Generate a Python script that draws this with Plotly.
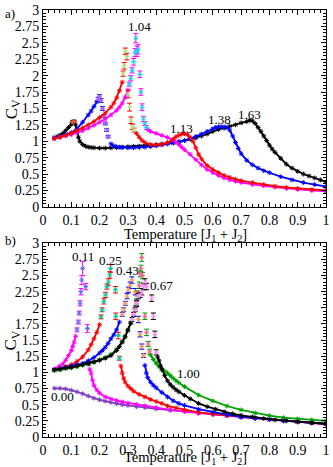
import plotly.graph_objects as go

# ---- panel a) ----
a_black_t = [0.04, 0.05, 0.06, 0.07, 0.08, 0.09, 0.10, 0.105, 0.11, 0.115, 0.12, 0.125, 0.13,
             0.14, 0.15, 0.16, 0.17, 0.18,
             0.20, 0.22, 0.24, 0.26, 0.28, 0.30, 0.32, 0.34, 0.36, 0.38, 0.40, 0.42, 0.44, 0.46,
             0.48, 0.50, 0.52, 0.54, 0.56, 0.58, 0.60, 0.62, 0.64, 0.66, 0.68, 0.70, 0.72,
             0.73, 0.74, 0.75, 0.76, 0.77, 0.78, 0.79, 0.80, 0.81, 0.82,
             0.84, 0.86, 0.88, 0.90, 0.92, 0.94, 0.96, 0.98, 1.00]
a_black_c = [1.05, 1.07, 1.09, 1.12, 1.16, 1.21, 1.26, 1.29, 1.30, 1.25, 1.15, 1.06, 1.00,
             0.95, 0.925, 0.91, 0.905, 0.90,
             0.895, 0.895, 0.90, 0.905, 0.91, 0.915, 0.92, 0.925, 0.93, 0.935, 0.945, 0.955, 0.965, 0.975,
             0.99, 1.01, 1.03, 1.05, 1.08, 1.11, 1.15, 1.18, 1.20, 1.23, 1.25, 1.28, 1.30,
             1.32, 1.31, 1.27, 1.21, 1.15, 1.08, 1.01, 0.94, 0.88, 0.83,
             0.74, 0.65, 0.59, 0.54, 0.50, 0.47, 0.44, 0.41, 0.38]
a_black_pt = [0.105, 0.11]
a_black_pc = [1.29, 1.30]
a_black_pe = [0.02, 0.02]

a_blue_t = [0.04, 0.06, 0.08, 0.10, 0.12, 0.14, 0.16, 0.17, 0.18, 0.19, None,
            0.24, 0.25, 0.26, 0.27, 0.28,
            0.30, 0.32, 0.34, 0.36, 0.38, 0.40, 0.42, 0.44, 0.46, 0.48, 0.50, 0.52, 0.54, 0.56, 0.58, 0.60,
            0.61, 0.62, 0.63, 0.64, 0.65, 0.66, 0.67, 0.68, 0.69, 0.70,
            0.72, 0.74, 0.76, 0.78, 0.80, 0.84, 0.88, 0.92, 0.96, 1.00]
a_blue_c = [1.05, 1.07, 1.10, 1.13, 1.19, 1.29, 1.40, 1.46, 1.53, 1.60, None,
            0.96, 0.93, 0.915, 0.91, 0.905,
            0.90, 0.90, 0.905, 0.91, 0.92, 0.93, 0.945, 0.96, 0.975, 0.99, 1.01, 1.04, 1.07, 1.11, 1.15, 1.19,
            1.21, 1.22, 1.22, 1.22, 1.21, 1.17, 1.08, 0.98, 0.89, 0.81,
            0.71, 0.64, 0.59, 0.55, 0.52, 0.46, 0.41, 0.37, 0.34, 0.31]
a_blue_pt = [0.195, 0.20, 0.205, 0.21, 0.215, 0.22, 0.225, 0.23]
a_blue_pc = [1.64, 1.68, 1.62, 1.50, 1.38, 1.27, 1.17, 1.07]
a_blue_pe = [0.03, 0.03, 0.03, 0.03, 0.02, 0.02, 0.02, 0.02]

a_red_t = [0.04, 0.06, 0.08, 0.10, 0.12, 0.14, 0.16, 0.18, 0.20, 0.22, 0.24, 0.25, 0.26, 0.27, 0.28, None,
           0.33, 0.34, 0.35, 0.36, 0.38, 0.40, 0.42, 0.44, 0.46, 0.47, 0.48, 0.49, 0.50, 0.51, 0.52, 0.53,
           0.54, 0.55, 0.56, 0.58, 0.60, 0.62, 0.64, 0.66, 0.68, 0.70, 0.74, 0.78, 0.82, 0.86, 0.90, 0.95, 1.00]
a_red_c = [1.04, 1.06, 1.09, 1.12, 1.16, 1.20, 1.25, 1.30, 1.36, 1.43, 1.52, 1.58, 1.66, 1.77, 1.90, None,
           1.12, 1.06, 1.01, 0.98, 0.95, 0.945, 0.955, 0.98, 1.03, 1.07, 1.09, 1.11, 1.115, 1.10, 1.06, 1.00,
           0.90, 0.80, 0.73, 0.63, 0.57, 0.52, 0.48, 0.45, 0.42, 0.40, 0.37, 0.34, 0.315, 0.295, 0.28, 0.26, 0.25]
a_red_pt = [0.283, 0.287, 0.291, 0.296, 0.301, 0.306, 0.311, 0.316, 0.322]
a_red_pc = [2.03, 2.15, 2.37, 2.29, 1.72, 1.52, 1.32, 1.22, 1.17]
a_red_pe = [0.04, 0.05, 0.05, 0.05, 0.06, 0.06, 0.05, 0.04, 0.03]

a_mag_t = [0.04, 0.06, 0.08, 0.10, 0.12, 0.14, 0.16, 0.18, 0.20, 0.22, 0.24, 0.26, 0.27, 0.28, 0.29, 0.30, None,
           0.37, 0.38, 0.40, 0.42, 0.44, 0.46, 0.47, 0.48, 0.49, 0.50, 0.52, 0.54, 0.56, 0.58, 0.60,
           0.62, 0.64, 0.66, 0.68, 0.70, 0.74, 0.78, 0.82, 0.86, 0.90, 0.95, 1.00]
a_mag_c = [1.04, 1.06, 1.08, 1.10, 1.13, 1.16, 1.20, 1.24, 1.29, 1.34, 1.40, 1.47, 1.52, 1.58, 1.67, 1.78, None,
           1.18, 1.15, 1.12, 1.09, 1.06, 1.02, 0.99, 0.95, 0.91, 0.87, 0.80, 0.72, 0.64, 0.57, 0.52,
           0.48, 0.44, 0.41, 0.39, 0.37, 0.34, 0.32, 0.30, 0.28, 0.265, 0.25, 0.235]
a_mag_pt = [0.305, 0.31, 0.315, 0.32, 0.325, 0.328, 0.332, 0.336, 0.342, 0.346, 0.35, 0.355, 0.36, 0.365]
a_mag_pc = [1.87, 1.96, 2.08, 2.21, 2.35, 2.57, 2.37, 2.40, 2.02, 1.75, 1.52, 1.34, 1.27, 1.21]
a_mag_pe = [0.03, 0.04, 0.04, 0.05, 0.06, 0.07, 0.08, 0.07, 0.05, 0.05, 0.05, 0.04, 0.03, 0.03]

a_labels = ["1.04", "1.13", "1.38", "1.63"]
a_label_t = [0.34, 0.49, 0.625, 0.728]
a_label_c = [2.75, 1.19, 1.33, 1.40]

# ---- panel b) ----
b_mag_t = [0.04, 0.05, 0.06, 0.07, 0.08, 0.09, 0.10, 0.105, 0.11, 0.115, None,
           0.165, 0.17, 0.175, 0.18, 0.19, 0.20, 0.22, 0.24, 0.26, 0.28, 0.30, 0.33, 0.36, 0.40, 0.45,
           0.50, 0.55, 0.60, 0.65, 0.70, 0.75, 0.80, 0.85, 0.90, 0.95, 1.00]
b_mag_c = [1.05, 1.07, 1.10, 1.13, 1.19, 1.26, 1.34, 1.40, 1.47, 1.56, None,
           1.05, 0.99, 0.88, 0.80, 0.73, 0.68, 0.62, 0.59, 0.565, 0.545, 0.525, 0.505, 0.485, 0.455, 0.42,
           0.395, 0.37, 0.35, 0.33, 0.31, 0.29, 0.275, 0.255, 0.24, 0.22, 0.20]
b_mag_pt = [0.12, 0.125, 0.128, 0.131, 0.134, 0.137, 0.14, 0.151, 0.157, 0.162]
b_mag_pc = [1.66, 1.78, 1.92, 2.07, 2.25, 2.43, 2.61, 2.33, 1.68, 1.14]
b_mag_pe = [0.03, 0.03, 0.03, 0.04, 0.05, 0.07, 0.11, 0.05, 0.06, 0.03]

b_red_t = [0.04, 0.06, 0.08, 0.10, 0.12, 0.14, 0.16, 0.17, 0.18, 0.19, 0.20, None,
           0.275, 0.28, 0.285, 0.29, 0.30, 0.31, 0.32, 0.34, 0.36, 0.38, 0.40, 0.42, 0.44, 0.47,
           0.50, 0.55, 0.60, 0.65, 0.70, 0.75, 0.80, 0.85, 0.90, 0.95, 1.00]
b_red_c = [1.04, 1.06, 1.09, 1.12, 1.17, 1.24, 1.35, 1.43, 1.52, 1.62, 1.74, None,
           1.10, 0.99, 0.91, 0.85, 0.79, 0.75, 0.71, 0.66, 0.62, 0.58, 0.55, 0.52, 0.48, 0.45,
           0.42, 0.38, 0.355, 0.335, 0.31, 0.29, 0.27, 0.25, 0.235, 0.22, 0.20]
b_red_pt = [0.205, 0.209, 0.215, 0.221, 0.226, 0.231, 0.236, 0.239, 0.256, 0.257, 0.266, 0.27]
b_red_pc = [1.86, 1.97, 2.10, 2.20, 2.33, 2.40, 2.51, 2.61, 2.28, 1.87, 1.57, 1.22]
b_red_pe = [0.03, 0.03, 0.04, 0.04, 0.04, 0.05, 0.05, 0.06, 0.05, 0.05, 0.05, 0.03]

b_blue_t = [0.04, 0.06, 0.08, 0.10, 0.12, 0.14, 0.16, 0.18, 0.20, 0.21, 0.22, 0.23, 0.24, 0.25, 0.26, 0.27, None,
            0.36, 0.365, 0.37, 0.38, 0.39, 0.40, 0.42, 0.44, 0.46, 0.48,
            0.50, 0.55, 0.60, 0.65, 0.70, 0.75, 0.80, 0.85, 0.90, 0.95, 1.00]
b_blue_c = [1.04, 1.06, 1.08, 1.10, 1.12, 1.14, 1.18, 1.23, 1.30, 1.34, 1.39, 1.45, 1.52, 1.58, 1.66, 1.78, None,
            1.11, 0.99, 0.92, 0.85, 0.80, 0.76, 0.69, 0.62, 0.56, 0.52,
            0.49, 0.43, 0.385, 0.345, 0.31, 0.29, 0.27, 0.25, 0.235, 0.22, 0.205]
b_blue_pt = [0.28, 0.285, 0.291, 0.297, 0.302, 0.308, 0.314, 0.326, 0.331, 0.337, 0.343, 0.349, 0.355]
b_blue_pc = [1.90, 1.97, 2.07, 2.18, 2.28, 2.35, 2.43, 2.25, 2.07, 1.82, 1.59, 1.40, 1.26]
b_blue_pe = [0.03, 0.03, 0.03, 0.04, 0.04, 0.05, 0.05, 0.05, 0.05, 0.05, 0.04, 0.04, 0.03]

b_black_t = [0.04, 0.06, 0.08, 0.10, 0.12, 0.14, 0.16, 0.18, 0.20, 0.22, 0.24, 0.26, 0.27, 0.28, 0.29, 0.30, 0.31, None,
             0.405, 0.41, 0.415, 0.42, 0.43, 0.44, 0.45, 0.46, 0.47, 0.48, 0.50, 0.52, 0.55, 0.58,
             0.61, 0.64, 0.67, 0.70, 0.74, 0.78, 0.82, 0.86, 0.90, 0.95, 1.00]
b_black_c = [1.04, 1.05, 1.07, 1.08, 1.10, 1.12, 1.14, 1.16, 1.19, 1.22, 1.26, 1.34, 1.40, 1.47, 1.55, 1.65, 1.76, None,
             1.24, 1.18, 1.10, 1.04, 0.95, 0.87, 0.81, 0.77, 0.73, 0.70, 0.645, 0.59, 0.52, 0.47,
             0.43, 0.39, 0.36, 0.335, 0.31, 0.285, 0.265, 0.25, 0.235, 0.22, 0.205]
b_black_pt = [0.314, 0.32, 0.326, 0.331, 0.337, 0.343, 0.349, 0.355, 0.36, 0.366, 0.384, 0.39, 0.395, 0.40]
b_black_pc = [1.82, 1.90, 1.97, 2.07, 2.18, 2.20, 2.25, 2.33, 2.40, 2.33, 2.15, 1.87, 1.59, 1.31]
b_black_pe = [0.03, 0.03, 0.03, 0.04, 0.04, 0.04, 0.05, 0.05, 0.05, 0.05, 0.05, 0.05, 0.05, 0.04]

b_green_t = [0.04, 0.06, 0.08, 0.10, 0.12, 0.14, 0.16, 0.18, 0.20, 0.22, 0.24, 0.26, 0.28, 0.29, 0.30, 0.31, None,
             0.38, 0.39, 0.40, 0.41, 0.42, 0.43, 0.44, 0.45, 0.46, 0.47, 0.48, 0.50,
             0.55, 0.60, 0.65, 0.70, 0.75, 0.80, 0.85, 0.90, 0.95, 1.00]
b_green_c = [1.03, 1.04, 1.06, 1.07, 1.09, 1.11, 1.13, 1.16, 1.19, 1.23, 1.28, 1.36, 1.48, 1.56, 1.66, 1.77, None,
             1.27, 1.20, 1.14, 1.09, 1.06, 1.02, 0.99, 0.95, 0.91, 0.87, 0.84, 0.78,
             0.65, 0.56, 0.48, 0.42, 0.37, 0.33, 0.30, 0.28, 0.265, 0.25]
b_green_pt = [0.32, 0.325, 0.33, 0.335, 0.34, 0.343, 0.346, 0.349, 0.352, 0.36, 0.366, 0.372, 0.377]
b_green_pc = [1.90, 2.00, 2.10, 2.22, 2.35, 2.53, 2.61, 2.78, 2.50, 1.87, 1.62, 1.44, 1.32]
b_green_pe = [0.03, 0.03, 0.04, 0.04, 0.05, 0.05, 0.05, 0.06, 0.05, 0.05, 0.05, 0.04, 0.04]

b_purple_t = [0.04, 0.06, 0.08, 0.10, 0.12, 0.14, 0.16, 0.18, 0.20, 0.22, 0.24, 0.26, 0.28, 0.30, 0.33, 0.36,
              0.40, 0.45, 0.50, 0.55, 0.60, 0.65, 0.70, 0.75, 0.80, 0.85, 0.90, 0.95, 1.00]
b_purple_c = [0.755, 0.755, 0.745, 0.725, 0.70, 0.67, 0.635, 0.60, 0.575, 0.555, 0.535, 0.515, 0.50, 0.49, 0.47, 0.455,
              0.435, 0.415, 0.395, 0.37, 0.35, 0.33, 0.31, 0.29, 0.275, 0.26, 0.24, 0.225, 0.21]

b_labels = ["0.11", "0.25", "0.43", "0.67", "1.00", "0.00"]
b_label_t = [0.14, 0.24, 0.30, 0.42, 0.515, 0.07]
b_label_c = [2.79, 2.74, 2.58, 2.35, 0.98, 0.62]

FONT = "Liberation Serif"
XTITLE = "Temperature [J<sub>1</sub> + J<sub>2</sub>]"

fig = go.Figure()


def add_curve(t, c, pt, pc, pe, color, xa, ya):
    assert len(t) == len(c) and len(pt) == len(pc) == len(pe)
    fig.add_trace(go.Scatter(
        x=t, y=c, xaxis=xa, yaxis=ya, mode="lines+markers",
        line=dict(color=color, width=1.8),
        marker=dict(symbol="asterisk-open", size=4, line=dict(color=color, width=1)),
        connectgaps=False, showlegend=False, hoverinfo="skip",
    ))
    if pt:
        fig.add_trace(go.Scatter(
            x=pt, y=pc, xaxis=xa, yaxis=ya, mode="markers",
            marker=dict(symbol="asterisk-open", size=4, line=dict(color=color, width=1)),
            error_y=dict(type="data", array=pe, color=color, thickness=1, width=2.5),
            showlegend=False, hoverinfo="skip",
        ))


add_curve(a_black_t, a_black_c, a_black_pt, a_black_pc, a_black_pe, "#000000", "x", "y")
add_curve(a_blue_t, a_blue_c, a_blue_pt, a_blue_pc, a_blue_pe, "#0000ff", "x", "y")
add_curve(a_mag_t, a_mag_c, a_mag_pt, a_mag_pc, a_mag_pe, "#ff00ff", "x", "y")
add_curve(a_red_t, a_red_c, a_red_pt, a_red_pc, a_red_pe, "#ff0000", "x", "y")

add_curve(b_purple_t, b_purple_c, [], [], [], "#7d3fbf", "x2", "y2")
add_curve(b_mag_t, b_mag_c, b_mag_pt, b_mag_pc, b_mag_pe, "#ff00ff", "x2", "y2")
add_curve(b_red_t, b_red_c, b_red_pt, b_red_pc, b_red_pe, "#ff0000", "x2", "y2")
add_curve(b_blue_t, b_blue_c, b_blue_pt, b_blue_pc, b_blue_pe, "#0000ff", "x2", "y2")
add_curve(b_green_t, b_green_c, b_green_pt, b_green_pc, b_green_pe, "#00a000", "x2", "y2")
add_curve(b_black_t, b_black_c, b_black_pt, b_black_pc, b_black_pe, "#000000", "x2", "y2")

common = dict(showline=True, linecolor="black", linewidth=1, mirror="allticks",
              ticks="inside", ticklen=5, tickcolor="black", showgrid=False, zeroline=False,
              tickfont=dict(family=FONT, size=14, color="black"))
xcommon = dict(common, range=[0, 1], tick0=0, dtick=0.1,
               minor=dict(dtick=0.02, ticks="inside", ticklen=3, tickcolor="black"))
ycommon = dict(common, range=[0, 3], tick0=0, dtick=0.25,
               minor=dict(dtick=0.05, ticks="inside", ticklen=3, tickcolor="black"))

notes = []
for s, t, c in zip(a_labels, a_label_t, a_label_c):
    notes.append(dict(x=t, y=c, xref="x", yref="y", text=s, showarrow=False,
                      font=dict(family=FONT, size=13, color="black")))
for s, t, c in zip(b_labels, b_label_t, b_label_c):
    notes.append(dict(x=t, y=c, xref="x2", yref="y2", text=s, showarrow=False,
                      font=dict(family=FONT, size=13, color="black")))
# panel letters, axis titles
for txt, yy in [("a)", 0.991), ("b)", 0.461)]:
    notes.append(dict(x=-0.143, y=yy, xref="paper", yref="paper", text=txt, showarrow=False,
                      xanchor="left", yanchor="middle", font=dict(family=FONT, size=13, color="black")))
for yy in [0.474, -0.049]:
    notes.append(dict(x=0.505, y=yy, xref="paper", yref="paper", text=XTITLE, showarrow=False,
                      xanchor="center", yanchor="middle", font=dict(family=FONT, size=14.5, color="black")))
for yy in [0.7685, 0.227]:
    notes.append(dict(x=-0.108, y=yy, xref="paper", yref="paper", text="C<sub>V</sub>", showarrow=False,
                      textangle=-90, xanchor="center", yanchor="middle",
                      font=dict(family=FONT, size=17, color="black")))

fig.update_layout(
    width=333, height=467,
    margin=dict(l=43, r=3, t=5, b=30),
    paper_bgcolor="white", plot_bgcolor="white",
    font=dict(family=FONT, color="black"),
    xaxis=dict(xcommon, anchor="y", domain=[0, 1]),
    yaxis=dict(ycommon, anchor="x", domain=[0.539, 1]),
    xaxis2=dict(xcommon, anchor="y2", domain=[0, 1]),
    yaxis2=dict(ycommon, anchor="x2", domain=[0, 0.4537]),
    annotations=notes,
)

# the page body has a default 8px margin; drop it so the figure sits at the window corner
fig.write_html("out.html", config={"displayModeBar": False},
               post_script="document.body.style.margin='0';")
